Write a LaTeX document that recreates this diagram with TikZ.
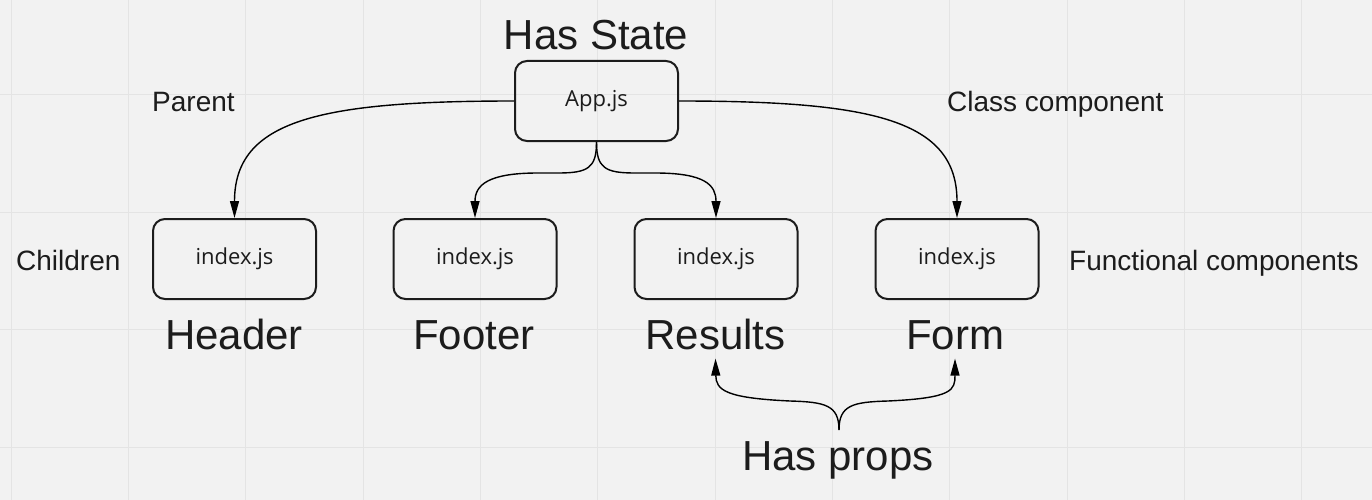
\documentclass[tikz,border=0pt]{standalone}
\usepackage{fontspec}
\setmainfont{Liberation Sans}
\newfontfamily\boxfont{Open Sans}
\usetikzlibrary{arrows.meta}
\definecolor{bgc}{HTML}{F2F2F2}
\definecolor{gridc}{HTML}{E4E4E4}
\definecolor{ink}{HTML}{1C1C1C}
\begin{document}
\begin{tikzpicture}[x=1pt,y=-1pt,
  comp/.style={draw=ink, line width=2pt, rounded corners=12pt, minimum width=163pt,
    minimum height=80pt, inner sep=0pt, font=\boxfont\fontsize{22}{26}\selectfont, text=ink},
  big/.style={font=\fontsize{42}{48}\selectfont, text=ink, inner sep=0pt, anchor=base},
  mid/.style={font=\fontsize{28}{33}\selectfont, text=ink, inner sep=0pt, anchor=base west},
  conn/.style={draw=black, line width=1.4pt, -{Triangle[length=17pt,width=9pt]}},
]
\fill[bgc] (0,0) rectangle (1372,500);
\useasboundingbox (0,0) rectangle (1372,500);
\foreach \i in {0,...,11} \draw[gridc, line width=1pt] ({11+117.35*\i},0) -- ++(0,500);
\foreach \j in {0,...,4} \draw[gridc, line width=1pt] (0,{-22.35+117.35*\j}) -- ++(1372,0);

% component boxes
\node[comp] (app) at (596.5,101) {App.js};
\node[comp] (header) at (234.5,259) {index.js};
\node[comp] (footer) at (475,259) {index.js};
\node[comp] (results) at (716,259) {index.js};
\node[comp] (form) at (957,259) {index.js};

% big labels
\node[big] (hasstate) at (596,50) {Has State};
\node[big] (lheader) at (234,349) {Header};
\node[big] (lfooter) at (474,349) {Footer};
\node[big] (lresults) at (715.5,349) {Results};
\node[big] (lform) at (955,349) {Form};
\node[big] (hasprops) at (838,470) {Has props};

% side labels
\node[mid] (parent) at (152,111) {Parent};
\node[mid] (classc) at (947,111) {Class component};
\node[mid] (children) at (16,270) {Children};
\node[mid] (functc) at (1069,270) {Functional components};

% connectors from App.js
\draw[conn] (app.west) .. controls (320,101) and (234.5,120) .. (header.north);
\draw[conn] (app.east) .. controls (873,101) and (957,120) .. (form.north);
\draw[conn] (app.south) .. controls (596.5,168) and (588,173) .. (558,173) -- (538,173)
  .. controls (488,173) and (475,185) .. (footer.north);
\draw[conn] (app.south) .. controls (596.5,168) and (605,173) .. (635,173) -- (655,173)
  .. controls (705,173) and (716,185) .. (results.north);

% props brace
\coordinate (pp) at (839,430);
\draw[conn] (pp) .. controls (839,405) and (825,402) .. (790,401)
  .. controls (725,398) and (716,390) .. ([yshift=-9pt]lresults.south);
\draw[conn] (pp) .. controls (839,405) and (853,402) .. (888,401)
  .. controls (953,398) and (955,390) .. ([yshift=-9pt]lform.south);
\end{tikzpicture}
\end{document}
